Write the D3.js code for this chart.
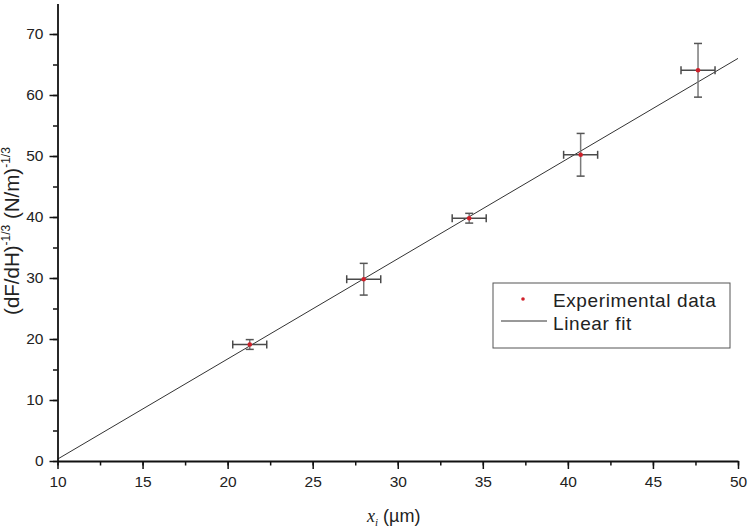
<!DOCTYPE html>
<html>
<head>
<meta charset="utf-8">
<script src="https://cdn.jsdelivr.net/npm/d3@7"></script>
<style>
  body { margin: 0; background: #fff; }
  text { font-family: "Liberation Sans", Arial, sans-serif; fill: #222; }
</style>
</head>
<body>
<div id="chart"></div>
<script>
// measured points (x in um, y in (N/m)^-1/3)
let xVals = [21.3, 28.0, 34.2, 40.75, 47.65];
let yVals = [19.1, 29.8, 39.8, 50.2, 64.05];
let xErr = [1.0, 1.0, 1.0, 1.0, 1.0];
let yErr = [0.8, 2.6, 0.8, 3.5, 4.4];

// linear fit end points
let fitX = [10, 50];
let fitY = [0.3, 66.0];

let xTicks = [10, 15, 20, 25, 30, 35, 40, 45, 50];
let yTicks = [0, 10, 20, 30, 40, 50, 60, 70];

let width = 750, height = 532;
let margin = {left: 57.5, right: 12, top: 3.5, bottom: 71};

let svg = d3.select("#chart")
    .append("svg")
    .attr("width", width)
    .attr("height", height);

let x = d3.scaleLinear()
    .domain([10, 50])
    .range([margin.left, width - margin.right]);

let y = d3.scaleLinear()
    .domain([0, 75])
    .range([height - margin.bottom, margin.top]);

let data = xVals.map(function(d, i) {
    return {x: d, y: yVals[i], ex: xErr[i], ey: yErr[i]};
});

// fit line
svg.append("line")
    .attr("x1", x(fitX[0])).attr("y1", y(fitY[0]))
    .attr("x2", x(fitX[1])).attr("y2", y(fitY[1]))
    .attr("stroke", "#333")
    .attr("stroke-width", 1);

// error bars
let bars = svg.append("g").selectAll("g").data(data).enter().append("g");
let cap = 4;

bars.append("line")   // vertical
    .attr("x1", d => x(d.x)).attr("x2", d => x(d.x))
    .attr("y1", d => y(d.y - d.ey)).attr("y2", d => y(d.y + d.ey))
    .attr("stroke", "#7a7a7a").attr("stroke-width", 1.5);
bars.append("line")
    .attr("x1", d => x(d.x) - cap).attr("x2", d => x(d.x) + cap)
    .attr("y1", d => y(d.y + d.ey)).attr("y2", d => y(d.y + d.ey))
    .attr("stroke", "#555").attr("stroke-width", 1.5);
bars.append("line")
    .attr("x1", d => x(d.x) - cap).attr("x2", d => x(d.x) + cap)
    .attr("y1", d => y(d.y - d.ey)).attr("y2", d => y(d.y - d.ey))
    .attr("stroke", "#555").attr("stroke-width", 1.5);

bars.append("line")   // horizontal
    .attr("x1", d => x(d.x - d.ex)).attr("x2", d => x(d.x + d.ex))
    .attr("y1", d => y(d.y)).attr("y2", d => y(d.y))
    .attr("stroke", "#4a4a4a").attr("stroke-width", 1.5);
bars.append("line")
    .attr("x1", d => x(d.x - d.ex)).attr("x2", d => x(d.x - d.ex))
    .attr("y1", d => y(d.y) - cap).attr("y2", d => y(d.y) + cap)
    .attr("stroke", "#4a4a4a").attr("stroke-width", 1.5);
bars.append("line")
    .attr("x1", d => x(d.x + d.ex)).attr("x2", d => x(d.x + d.ex))
    .attr("y1", d => y(d.y) - cap).attr("y2", d => y(d.y) + cap)
    .attr("stroke", "#4a4a4a").attr("stroke-width", 1.5);

bars.append("circle")
    .attr("cx", d => x(d.x)).attr("cy", d => y(d.y))
    .attr("r", 2.3)
    .attr("fill", "#d0202a");

// axes: minor ticks first, then major with labels
let xAxisG = svg.append("g").attr("transform", `translate(0, ${y(0)})`);
xAxisG.append("g")
    .call(d3.axisBottom(x).tickValues(d3.range(10, 50.1, 2.5)).tickSize(4.5).tickFormat(""))
    .call(g => g.select(".domain").remove());
xAxisG.append("g")
    .call(d3.axisBottom(x).tickValues(xTicks).tickSize(8).tickPadding(7).tickSizeOuter(0))
    .call(g => g.selectAll("text").style("font-size", "15.5px").attr("fill", "#222"));

let yAxisG = svg.append("g").attr("transform", `translate(${x(10)}, 0)`);
yAxisG.append("g")
    .call(d3.axisLeft(y).tickValues(d3.range(0, 75, 5)).tickSize(4.5).tickFormat(""))
    .call(g => g.select(".domain").remove());
yAxisG.append("g")
    .call(d3.axisLeft(y).tickValues(yTicks).tickSize(8).tickPadding(6).tickSizeOuter(0))
    .call(g => g.selectAll("text").style("font-size", "15.5px").attr("fill", "#222"));

svg.selectAll(".domain").attr("stroke", "#111").attr("stroke-width", 1.8);
svg.selectAll(".tick line").attr("stroke", "#111").attr("stroke-width", 1.5);

// x axis title
let xt = svg.append("text")
    .attr("x", 367).attr("y", 522)
    .style("font-size", "18px");
xt.append("tspan").text("x")
    .style("font-family", "'Liberation Serif', 'Times New Roman', serif")
    .style("font-style", "italic");
xt.append("tspan").text("i").attr("dy", 4)
    .style("font-family", "'Liberation Serif', 'Times New Roman', serif")
    .style("font-style", "italic")
    .style("font-size", "11px");
xt.append("tspan").text(" (\u00b5m)").attr("dy", -4);

// y axis title
let yt = svg.append("text")
    .attr("transform", "translate(19, 231) rotate(-90)")
    .style("text-anchor", "middle")
    .style("font-size", "20.5px");
yt.append("tspan").text("(dF/dH)");
yt.append("tspan").text("-1/3").attr("dy", -9).style("font-size", "12px");
yt.append("tspan").text(" (N/m)").attr("dy", 9);
yt.append("tspan").text("-1/3").attr("dy", -9).style("font-size", "12px");

// legend
let legend = svg.append("g");
legend.append("rect")
    .attr("x", 493).attr("y", 283)
    .attr("width", 237).attr("height", 65)
    .attr("fill", "#fff")
    .attr("stroke", "#555")
    .attr("stroke-width", 1);
legend.append("circle")
    .attr("cx", 523).attr("cy", 299).attr("r", 1.8)
    .attr("fill", "#d0202a");
legend.append("line")
    .attr("x1", 501).attr("x2", 547)
    .attr("y1", 321).attr("y2", 321)
    .attr("stroke", "#333").attr("stroke-width", 1);
legend.append("text")
    .attr("x", 553).attr("y", 307)
    .style("font-size", "19px")
    .style("letter-spacing", "0.6px")
    .text("Experimental data");
legend.append("text")
    .attr("x", 553).attr("y", 330)
    .style("font-size", "19px")
    .style("letter-spacing", "0.6px")
    .text("Linear fit");
</script>
</body>
</html>
